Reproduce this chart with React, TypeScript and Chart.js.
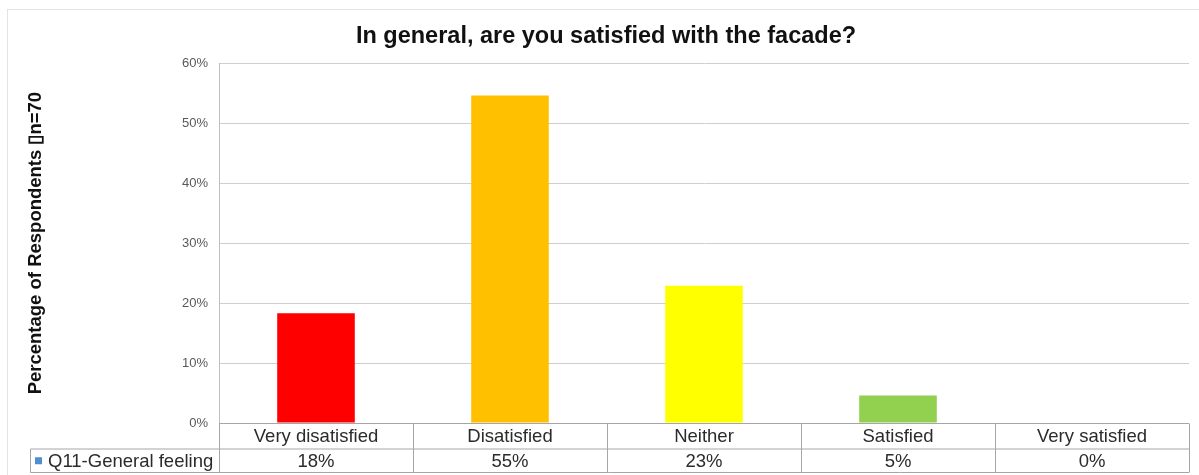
import React, { useEffect, useRef } from "react";
import { Chart, registerables } from "chart.js";

Chart.register(...registerables);

const categories = ["Very disatisfied", "Disatisfied", "Neither", "Satisfied", "Very satisfied"];
const values = [18.3, 54.6, 22.9, 4.6, 0];
const tableLabels = ["18%", "55%", "23%", "5%", "0%"];
const barColors = ["#FF0000", "#FFC000", "#FFFF00", "#92D050", "#4F81BD"];
const seriesName = "Q11-General feeling";
const titleText = "In general, are you satisfied with the facade?";
const yTitle = "Percentage of Respondents \u25AFn=70";

const FONT = "'Liberation Sans', Arial, sans-serif";

const tablePlugin = {
  id: "dataTable",
  beforeDraw(chart: any) {
    const { ctx } = chart;
    ctx.save();
    ctx.fillStyle = "#ffffff";
    ctx.fillRect(0, 0, chart.width, chart.height);
    ctx.strokeStyle = "#e3e3e3";
    ctx.lineWidth = 1;
    ctx.strokeRect(7.5, 9.5, chart.width + 10, chart.height + 10);
    ctx.restore();
  },
  afterDraw(chart: any) {
    const { ctx, chartArea } = chart;
    const xs = chart.scales.x;
    const n = categories.length;
    const colW = (chartArea.right - chartArea.left) / n;
    const top = Math.round(chartArea.bottom) + 0.5;
    const rowH = 25;
    const mid = top + rowH + 0.5;
    const bot = top + rowH * 2 - 1;
    const legendLeft = 30.5;
    ctx.save();
    ctx.strokeStyle = "#a6a6a6";
    ctx.lineWidth = 1;
    ctx.beginPath();
    ctx.moveTo(chartArea.left, top);
    ctx.lineTo(chartArea.right, top);
    ctx.moveTo(legendLeft, mid);
    ctx.lineTo(chartArea.right, mid);
    ctx.moveTo(legendLeft, bot);
    ctx.lineTo(chartArea.right, bot);
    ctx.moveTo(legendLeft, mid);
    ctx.lineTo(legendLeft, bot);
    for (let i = 0; i <= n; i++) {
      const x = Math.round(chartArea.left + colW * i) + 0.5;
      ctx.moveTo(x, top);
      ctx.lineTo(x, bot);
    }
    ctx.stroke();

    ctx.fillStyle = "#2b2b2b";
    ctx.font = `18.5px ${FONT}`;
    ctx.textAlign = "center";
    ctx.textBaseline = "middle";
    for (let i = 0; i < n; i++) {
      const cx = xs.getPixelForValue(i);
      ctx.fillText(categories[i], cx, top + rowH / 2 + 1);
      ctx.fillText(tableLabels[i], cx, mid + (bot - mid) / 2 + 1);
    }
    ctx.fillStyle = "#4F8FD0";
    ctx.fillRect(35, mid + (bot - mid) / 2 - 3.5, 7, 7);
    ctx.fillStyle = "#2b2b2b";
    ctx.textAlign = "left";
    ctx.fillText(seriesName, 48, mid + (bot - mid) / 2 + 1);
    ctx.restore();
  },
};

export default function App() {
  const ref = useRef<HTMLCanvasElement | null>(null);
  useEffect(() => {
    if (!ref.current) return;
    const chart = new Chart(ref.current, {
      type: "bar",
      data: {
        labels: categories,
        datasets: [
          {
            label: seriesName,
            data: values,
            backgroundColor: barColors,
            borderWidth: 0,
            categoryPercentage: 1,
            barPercentage: 0.4,
          },
        ],
      },
      options: {
        responsive: false,
        animation: false,
        layout: { padding: { left: 23, right: 10, top: 0, bottom: 52 } },
        plugins: {
          legend: { display: false },
          tooltip: { enabled: false },
          title: {
            display: true,
            text: titleText,
            color: "#111111",
            font: { family: FONT, size: 23.5, weight: "bold", lineHeight: 1.2 },
            padding: { top: 22, bottom: 13 },
          },
        },
        scales: {
          x: {
            display: false,
          },
          y: {
            min: 0,
            max: 60,
            afterFit: (s: any) => {
              s.width = 196;
            },
            ticks: {
              stepSize: 10,
              padding: 11,
              color: "#595959",
              font: { family: FONT, size: 13 },
              callback: (v: any) => `${v}%`,
            },
            grid: { color: "#cfcfcf", drawTicks: false, lineWidth: 1 },
            border: { display: true, color: "#bfbfbf" },
            title: {
              display: true,
              text: yTitle,
              color: "#111111",
              font: { family: FONT, size: 18.5, weight: "bold", lineHeight: 1.2 },
              padding: { top: 2, bottom: 2 },
            },
          },
        },
      },
      plugins: [tablePlugin],
    });
    return () => chart.destroy();
  }, []);
  return (
    <div style={{ position: "absolute", left: 0, top: 0, width: 1199, height: 475, background: "#fff" }}>
      <canvas ref={ref} width={1199} height={475} style={{ display: "block" }} />
    </div>
  );
}
